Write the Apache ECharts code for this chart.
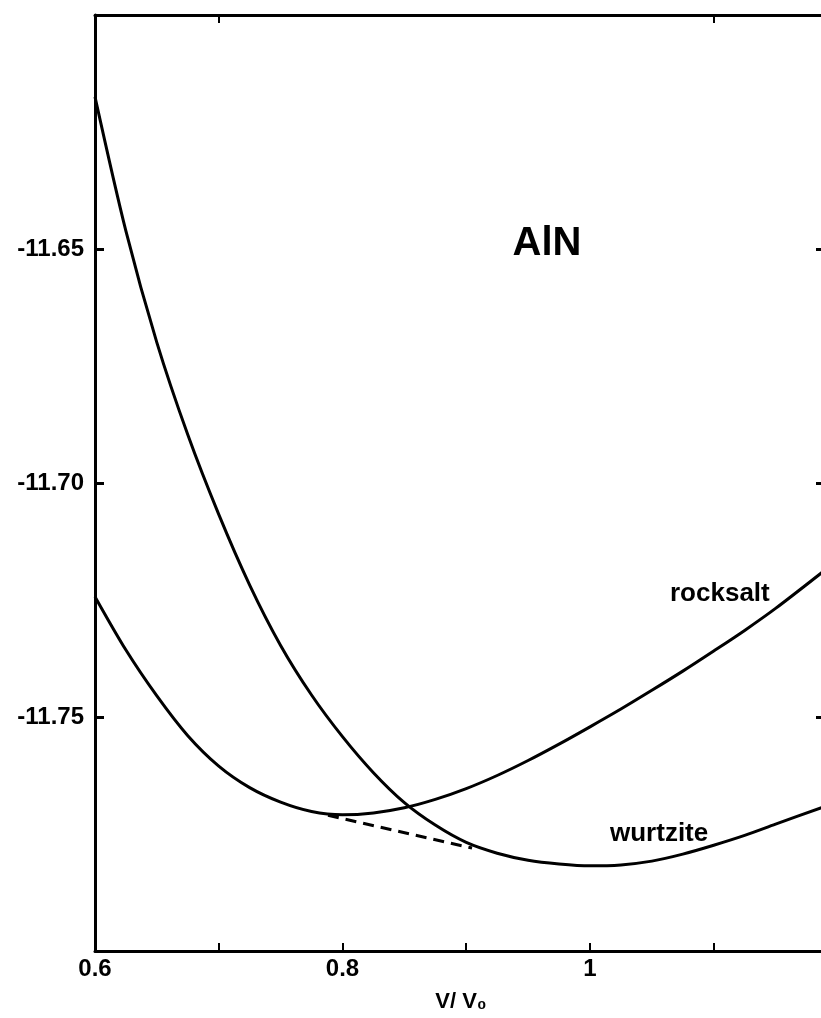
<!DOCTYPE html>
<html>
<head>
<meta charset="utf-8">
<script src="https://cdn.jsdelivr.net/npm/echarts@6/dist/echarts.min.js"></script>
<style>
  html, body { margin: 0; padding: 0; background: #fff; }
  #chart { width: 821px; height: 1018px; }
</style>
</head>
<body>
<div id="chart"></div>
<script>
// ---- data ----
const volumeRatio = [0.6, 0.625, 0.65, 0.675, 0.7, 0.725, 0.75, 0.775, 0.8, 0.825, 0.85, 0.875, 0.9, 0.925, 0.95, 0.975, 1.0, 1.025, 1.05, 1.075, 1.1, 1.125, 1.15, 1.19];
const wurtzite = [-11.6175, -11.6462, -11.6700, -11.6897, -11.7067, -11.7218, -11.7347, -11.7453, -11.7542, -11.7619, -11.7683, -11.7731, -11.7768, -11.7791, -11.7806, -11.7814, -11.7818, -11.7816, -11.7808, -11.7793, -11.7774, -11.7753, -11.7729, -11.7691];
const rocksalt = [-11.7243, -11.7357, -11.7455, -11.7540, -11.7605, -11.7651, -11.7682, -11.7702, -11.7709, -11.7705, -11.7694, -11.7676, -11.7653, -11.7625, -11.7593, -11.7558, -11.7521, -11.7483, -11.7443, -11.7402, -11.7359, -11.7315, -11.7268, -11.7186];
const tangentX = [0.7883, 0.9047];
const tangentY = [-11.7710, -11.7780];
const xTickValues = [0.6, 0.7, 0.8, 0.9, 1.0, 1.1];
const xLabelValues = [0.6, 0.8, 1];
const topTickValues = [0.7, 1.1];
const yLabelValues = [-11.65, -11.70, -11.75];

const pairs = (xs, ys) => xs.map((x, i) => [x, ys[i]]);

const chart = echarts.init(document.getElementById('chart'), null, { renderer: 'canvas' });
const FONT = '"Liberation Sans", Arial, Helvetica, sans-serif';
const axisLine = { show: true, lineStyle: { color: '#000', width: 3 } };

chart.setOption({
  backgroundColor: '#fff',
  animation: false,
  grid: { left: 95, top: 15, bottom: 66, right: 0, containLabel: false },
  xAxis: [{
    type: 'value', position: 'bottom', min: 0.6, max: 1.1867,
    axisLine: axisLine,
    axisTick: { show: true, inside: true, length: 8, customValues: xTickValues, lineStyle: { color: '#000', width: 2 } },
    splitLine: { show: false },
    axisLabel: {
      color: '#000', fontFamily: FONT, fontWeight: 'bold', fontSize: 24, margin: 6,
      customValues: xLabelValues,
      formatter: v => (Math.abs(v - 1) < 1e-6 ? '1' : v.toFixed(1))
    },
    name: 'V/ V\u2080', nameLocation: 'middle', nameGap: 40,
    nameTextStyle: { color: '#000', fontFamily: FONT, fontWeight: 'bold', fontSize: 22, padding: [0, 0, 0, 6] }
  }, {
    type: 'value', position: 'top', min: 0.6, max: 1.1867,
    axisLine: axisLine,
    axisTick: { show: true, inside: true, length: 8, customValues: topTickValues, lineStyle: { color: '#000', width: 2 } },
    axisLabel: { show: false },
    splitLine: { show: false }
  }],
  yAxis: [{
    type: 'value', position: 'left', min: -11.80, max: -11.60, interval: 0.05,
    axisLine: axisLine,
    axisTick: { show: true, inside: true, length: 9, customValues: yLabelValues, lineStyle: { color: '#000', width: 3 } },
    splitLine: { show: false },
    axisLabel: {
      color: '#000', fontFamily: FONT, fontWeight: 'bold', fontSize: 24, margin: 11,
      customValues: yLabelValues,
      formatter: v => v.toFixed(2)
    }
  }, {
    type: 'value', position: 'right', min: -11.80, max: -11.60, interval: 0.05,
    axisLine: { show: false },
    axisTick: { show: true, inside: true, length: 5, customValues: yLabelValues, lineStyle: { color: '#000', width: 3 } },
    axisLabel: { show: false },
    splitLine: { show: false }
  }],
  series: [{
    name: 'wurtzite', type: 'line', smooth: 0.3, showSymbol: false,
    lineStyle: { color: '#000', width: 3 },
    data: pairs(volumeRatio, wurtzite)
  }, {
    name: 'rocksalt', type: 'line', smooth: 0.3, showSymbol: false,
    lineStyle: { color: '#000', width: 3 },
    data: pairs(volumeRatio, rocksalt)
  }, {
    name: 'common tangent', type: 'line', showSymbol: false,
    lineStyle: { color: '#000', width: 3, type: [11, 7] },
    data: pairs(tangentX, tangentY)
  }],
  graphic: [
    { type: 'text', style: { text: 'AlN', x: 547, y: 244, font: 'bold 40px ' + FONT, fill: '#000', align: 'center', verticalAlign: 'middle', textAlign: 'center', textVerticalAlign: 'middle' } },
    { type: 'text', style: { text: 'rocksalt', x: 670, y: 594, font: 'bold 26px ' + FONT, fill: '#000', align: 'left', verticalAlign: 'middle', textAlign: 'left', textVerticalAlign: 'middle' } },
    { type: 'text', style: { text: 'wurtzite', x: 610, y: 834, font: 'bold 26px ' + FONT, fill: '#000', align: 'left', verticalAlign: 'middle', textAlign: 'left', textVerticalAlign: 'middle' } }
  ]
});
</script>
</body>
</html>
